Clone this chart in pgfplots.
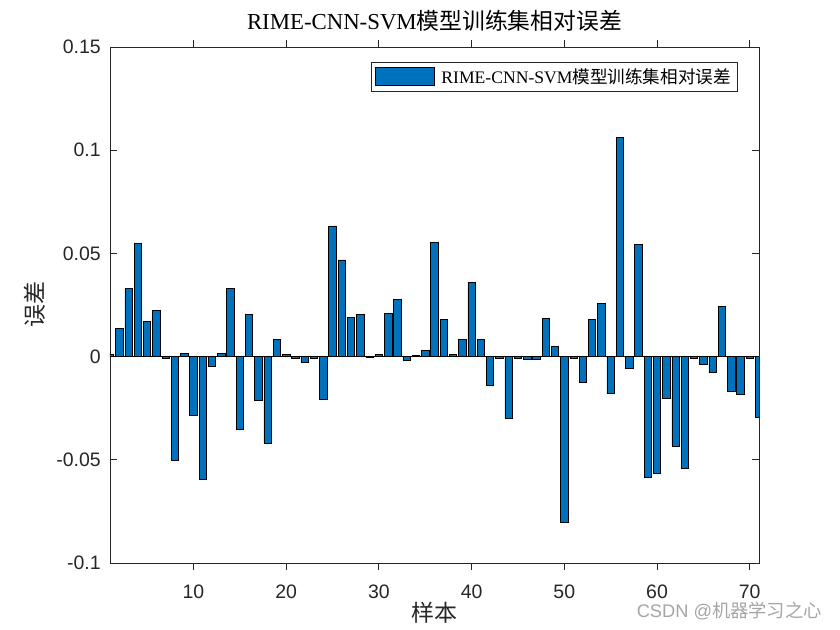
\documentclass[border=0pt]{standalone}
\usepackage{fontspec}
\setmainfont{Liberation Serif}
\setsansfont{Liberation Sans}
\newfontfamily\cjk{Noto Sans CJK SC}
\usepackage{pgfplots}
\pgfplotsset{compat=1.18}
\definecolor{barblue}{RGB}{0,114,189}
\definecolor{axgray}{RGB}{38,38,38}
\definecolor{wm}{RGB}{165,165,165}
\begin{document}
\begin{tikzpicture}
\useasboundingbox (0,0) rectangle (630pt,472.5pt);
\begin{axis}[
  at={(82.5pt,50.25pt)}, anchor=south west,
  width=486.75pt, height=387pt, scale only axis,
  xmin=1, xmax=71, ymin=-0.1, ymax=0.15,
  xtick={10,20,30,40,50,60,70},
  ytick={-0.1,-0.05,0,0.05,0.1,0.15},
  yticklabels={-0.1,-0.05,0,0.05,0.1,0.15},
  scaled y ticks=false,
  tick align=inside,
  major tick length=4.9pt,
  axis line style={axgray, line width=0.6pt},
  every tick/.style={axgray, line width=0.6pt},
  /pgf/number format/assume math mode=true,
  ticklabel style={font=\sffamily\fontsize{14.6}{16}\selectfont, text=axgray},
  yticklabel style={inner sep=0pt, xshift=-6.75pt},
  xticklabel style={inner sep=0pt, yshift=-11.25pt},
  title={\fontsize{17.1}{20}\selectfont RIME-CNN-SVM{\cjk 模型训练集相对误差}},
  title style={at={(axis description cs:0.5,1.035)}, anchor=center, inner sep=0pt},
  xlabel={\fontsize{17.25}{20}\selectfont\cjk 样本},
  xlabel style={at={(axis description cs:0.5,-0.097)}, anchor=center, inner sep=0pt, text=axgray},
  ylabel={\fontsize{17.25}{20}\selectfont\cjk 误差},
  ylabel style={at={(axis description cs:-0.1156,0.5)}, anchor=center, inner sep=0pt, rotate=0, text=axgray},
  legend style={at={(1,1)}, anchor=north east, xshift=-15.75pt, yshift=-11.25pt,
    draw=axgray, line width=0.6pt, inner xsep=3pt, inner ysep=2.5pt,
    font=\fontsize{13.2}{15}\selectfont, cells={anchor=west}},
  ybar, bar width=0.8, bar shift=0pt,
]
\addplot[fill=barblue, draw=black, line width=0.5pt,
  legend image code/.code={\draw[fill=barblue, draw=black, line width=0.5pt] (0pt,-6.75pt) rectangle (44pt,6.75pt); \path (47pt,0pt);}] coordinates {
(1,0.001) (2,0.0136) (3,0.0331) (4,0.055) (5,0.017) (6,0.0224) (7,-0.001) (8,-0.0502)
(9,0.0015) (10,-0.0287) (11,-0.0594) (12,-0.0049) (13,0.0015) (14,0.0331) (15,-0.0351)
(16,0.0205) (17,-0.0214) (18,-0.0419) (19,0.0083) (20,0.001) (21,-0.001) (22,-0.0028)
(23,-0.001) (24,-0.0205) (25,0.0633) (26,0.0468) (27,0.019) (28,0.0205) (29,-0.0005)
(30,0.001) (31,0.0209) (32,0.0278) (33,-0.002) (34,0.0005) (35,0.0029) (36,0.0555)
(37,0.018) (38,0.001) (39,0.0083) (40,0.036) (41,0.0083) (42,-0.0141) (43,-0.001)
(44,-0.0297) (45,-0.001) (46,-0.0015) (47,-0.0015) (48,0.0185) (49,0.0049) (50,-0.0804)
(51,-0.001) (52,-0.0127) (53,0.018) (54,0.0258) (55,-0.018) (56,0.1062) (57,-0.0058)
(58,0.0545) (59,-0.0584) (60,-0.0565) (61,-0.02) (62,-0.0433) (63,-0.0541) (64,-0.001)
(65,-0.0039) (66,-0.0078) (67,0.0244) (68,-0.0166) (69,-0.0185) (70,-0.001) (71,-0.0292)
};
\addlegendentry{RIME-CNN-SVM{\cjk 模型训练集相对误差}}
\draw[black, line width=0.5pt] (axis cs:1,0) -- (axis cs:71,0);
\end{axis}
\node[anchor=east, inner sep=0pt, text=wm, font=\sffamily\fontsize{13.7}{15}\selectfont] at (616.5pt,14.25pt) {CSDN @{\cjk 机器学习之心}};
\end{tikzpicture}
\end{document}
